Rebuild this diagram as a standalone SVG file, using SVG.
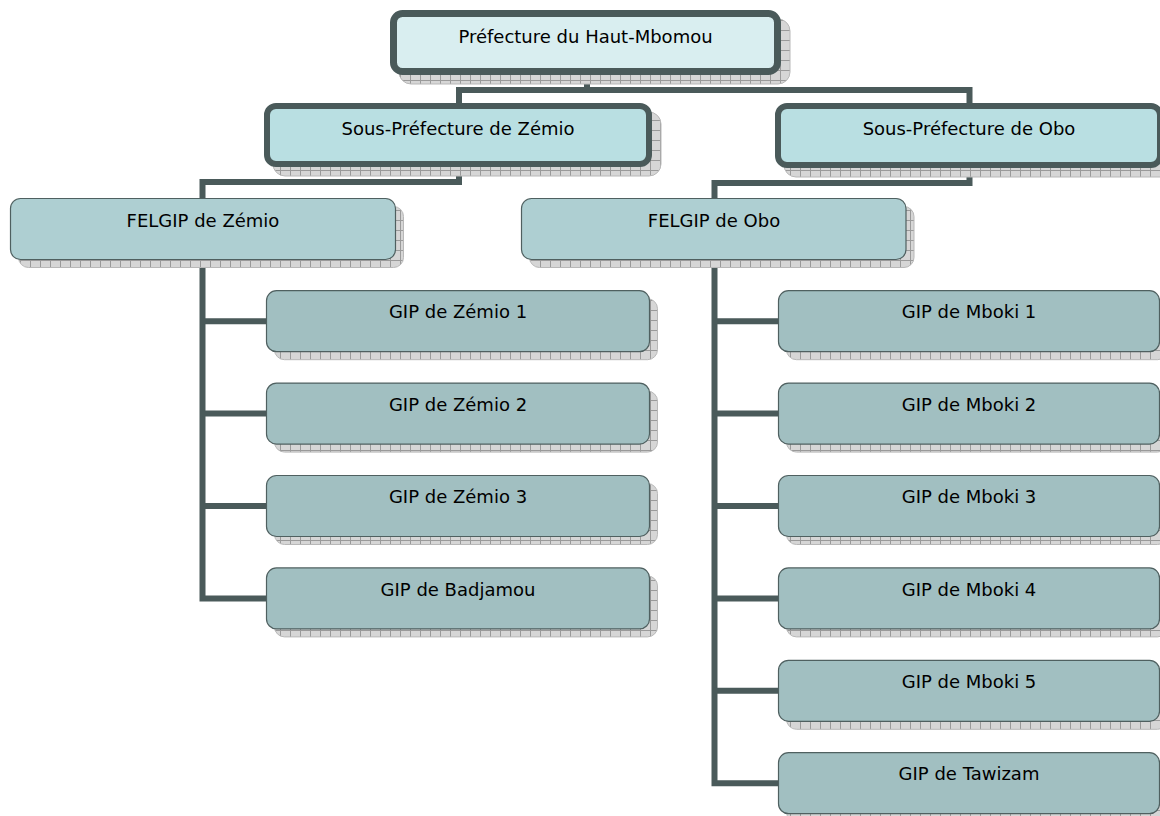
<svg xmlns="http://www.w3.org/2000/svg" width="1160" height="816" viewBox="0 0 1160 816">
<defs>
<pattern id="hatch" width="10" height="10" patternUnits="userSpaceOnUse">
<rect width="10" height="10" fill="#d6d6d6"/>
<path d="M0 0.5H10M0.5 0V10" stroke="#9a9a9a" stroke-width="1"/>
</pattern>
<style>
.sh{fill:url(#hatch);stroke:#b8b8b8;stroke-width:1}
.top{fill:#d9eef0;stroke:#4a5a5a;stroke-width:7}
.sp{fill:#b9dfe2;stroke:#4a5a5a;stroke-width:6}
.fg{fill:#aecfd2;stroke:#4f6060;stroke-width:1.2}
.gp{fill:#a1bfc1;stroke:#4f6060;stroke-width:1.2}
.lbl{font-family:"DejaVu Sans","Liberation Sans",sans-serif;font-size:18px;fill:#000;text-anchor:middle}
.con{fill:none;stroke:#4a5a5a;stroke-width:6;stroke-linejoin:miter;stroke-linecap:butt}
</style>
</defs>
<rect width="1160" height="816" fill="#fff"/>

<g id="connectors">
<path class="con" d="M587 75V90"/>
<path class="con" d="M459 103V90H969.5V103"/>
<path class="con" d="M459 167V182H202.5V199"/>
<path class="con" d="M202.5 259V598.4H267"/>
<path class="con" d="M202.5 321.2H267M202.5 413.6H267M202.5 506H267"/>
<path class="con" d="M969.5 168V183H714.5V199"/>
<path class="con" d="M714.5 259V783.2H779"/>
<path class="con" d="M714.5 321.2H779M714.5 413.6H779M714.5 506H779M714.5 598.4H779M714.5 690.8H779"/>
</g>

<g id="n-prefecture">
<rect class="sh" x="399" y="19" width="391" height="65" rx="12"/>
<rect class="top" x="393.5" y="13.5" width="384" height="58" rx="9"/>
<text class="lbl" x="585.5" y="42.5">Préfecture du Haut-Mbomou</text>
</g>

<g id="n-sp-zemio">
<rect class="sh" x="273" y="112" width="388" height="64" rx="12"/>
<rect class="sp" x="267" y="106" width="382" height="58" rx="9"/>
<text class="lbl" x="458" y="135.2">Sous-Préfecture de Zémio</text>
</g>

<g id="n-sp-obo">
<rect class="sh" x="784" y="112" width="388" height="65" rx="12"/>
<rect class="sp" x="778" y="106" width="382" height="59" rx="9"/>
<text class="lbl" x="969" y="135.2">Sous-Préfecture de Obo</text>
</g>

<g id="n-felgip-zemio">
<rect class="sh" x="18.5" y="206.5" width="385" height="61" rx="10"/>
<rect class="fg" x="10.5" y="198.5" width="385" height="61" rx="10"/>
<text class="lbl" x="203" y="226.9">FELGIP de Zémio</text>
</g>

<g id="n-felgip-obo">
<rect class="sh" x="529.5" y="206.5" width="384.5" height="61" rx="10"/>
<rect class="fg" x="521.5" y="198.5" width="384.5" height="61" rx="10"/>
<text class="lbl" x="714" y="226.9">FELGIP de Obo</text>
</g>

<g id="n-gip-zemio1">
<rect class="sh" x="274.5" y="298.7" width="383" height="61" rx="10"/>
<rect class="gp" x="266.5" y="290.7" width="383" height="61" rx="10"/>
<text class="lbl" x="458" y="318.4">GIP de Zémio 1</text>
</g>
<g id="n-gip-zemio2">
<rect class="sh" x="274.5" y="391.1" width="383" height="61" rx="10"/>
<rect class="gp" x="266.5" y="383.1" width="383" height="61" rx="10"/>
<text class="lbl" x="458" y="410.8">GIP de Zémio 2</text>
</g>
<g id="n-gip-zemio3">
<rect class="sh" x="274.5" y="483.5" width="383" height="61" rx="10"/>
<rect class="gp" x="266.5" y="475.5" width="383" height="61" rx="10"/>
<text class="lbl" x="458" y="503.2">GIP de Zémio 3</text>
</g>
<g id="n-gip-badjamou">
<rect class="sh" x="274.5" y="575.9" width="383" height="61" rx="10"/>
<rect class="gp" x="266.5" y="567.9" width="383" height="61" rx="10"/>
<text class="lbl" x="458" y="595.6">GIP de Badjamou</text>
</g>

<g id="n-gip-mboki1">
<rect class="sh" x="786.5" y="298.7" width="381" height="61" rx="10"/>
<rect class="gp" x="778.5" y="290.7" width="381" height="61" rx="10"/>
<text class="lbl" x="969" y="318.4">GIP de Mboki 1</text>
</g>
<g id="n-gip-mboki2">
<rect class="sh" x="786.5" y="391.1" width="381" height="61" rx="10"/>
<rect class="gp" x="778.5" y="383.1" width="381" height="61" rx="10"/>
<text class="lbl" x="969" y="410.8">GIP de Mboki 2</text>
</g>
<g id="n-gip-mboki3">
<rect class="sh" x="786.5" y="483.5" width="381" height="61" rx="10"/>
<rect class="gp" x="778.5" y="475.5" width="381" height="61" rx="10"/>
<text class="lbl" x="969" y="503.2">GIP de Mboki 3</text>
</g>
<g id="n-gip-mboki4">
<rect class="sh" x="786.5" y="575.9" width="381" height="61" rx="10"/>
<rect class="gp" x="778.5" y="567.9" width="381" height="61" rx="10"/>
<text class="lbl" x="969" y="595.6">GIP de Mboki 4</text>
</g>
<g id="n-gip-mboki5">
<rect class="sh" x="786.5" y="668.3" width="381" height="61" rx="10"/>
<rect class="gp" x="778.5" y="660.3" width="381" height="61" rx="10"/>
<text class="lbl" x="969" y="688">GIP de Mboki 5</text>
</g>
<g id="n-gip-tawizam">
<rect class="sh" x="786.5" y="760.7" width="381" height="61" rx="10"/>
<rect class="gp" x="778.5" y="752.7" width="381" height="61" rx="10"/>
<text class="lbl" x="969" y="780.4">GIP de Tawizam</text>
</g>
</svg>
